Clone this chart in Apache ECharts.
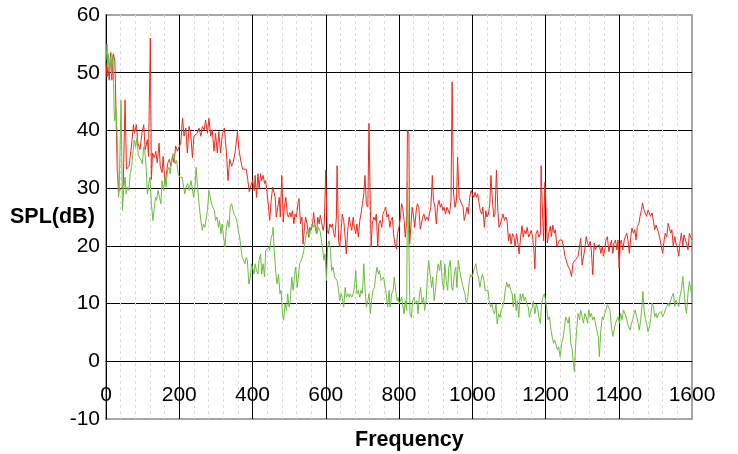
<!DOCTYPE html>
<html><head><meta charset="utf-8">
<script src="https://cdn.jsdelivr.net/npm/echarts@6/dist/echarts.min.js"></script>
<style>html,body{margin:0;padding:0;background:#fff}#c{width:738px;height:454px}</style>
</head><body><div id="c"></div>
<script>
// ---- data ----
const redFreq = [0,3,5,9,13,16,20,24,26,27,31,35,40,47,52,56,63,69,75,78,83,87,93,98,103,107,113,116,121,124,127,132,136,140,145,148,153,156,161,164,169,173,177,182,186,190,195,200,204,209,213,218,222,227,231,236,240,245,249,254,259,263,268,272,277,281,286,290,295,299,304,308,313,317,323,329,333,338,343,347,353,359,363,369,373,378,383,387,391,395,
400,405,407,411,415,418,422,425,429,433,436,440,444,447,451,455,458,462,465,469,473,476,480,484,487,491,495,498,502,505,509,513,516,520,524,527,531,535,538,542,545,549,553,556,560,564,567,571,575,578,582,585,589,593,596,600,604,607,611,615,618,622,625,629,631,635,638,642,645,649,653,656,660,664,667,671,675,678,682,685,689,693,696,700,704,707,711,715,718,722,724,727,731,735,738,742,745,749,753,756,760,764,767,771,775,778,782,785,789,793,796,
800,804,807,810,814,817,821,823,827,829,833,836,840,843,847,850,854,858,861,865,868,872,876,880,883,887,891,894,898,902,905,909,913,916,920,923,927,931,935,938,942,945,947,949,953,957,960,964,967,971,975,978,982,986,989,993,997,1000,1004,1008,1011,1015,1019,1022,1026,1029,1033,1037,1040,1044,1048,1051,1055,1059,1062,1066,1070,1073,1077,1081,1084,1088,1092,1095,1099,1103,1106,1110,1114,1117,1121,1125,1128,1132,1136,1139,1143,1147,1150,1154,1158,1161,1165,1169,1171,1174,1178,1182,1186,1188,1191,1195,1198,1200,
1203,1205,1209,1213,1216,1220,1224,1227,1231,1235,1238,1242,1245,1249,1253,1256,1260,1264,1267,1271,1275,1278,1282,1285,1289,1293,1296,1300,1304,1307,1311,1315,1318,1322,1325,1329,1333,1336,1340,1344,1347,1351,1355,1358,1362,1365,1369,1373,1376,1380,1384,1387,1391,1395,1398,1401,1404,1407,1411,1415,1418,1422,1425,1429,1433,1436,1440,1444,1447,1451,1455,1458,1462,1465,1469,1473,1476,1480,1484,1487,1491,1495,1498,1502,1505,1509,1513,1516,1520,1524,1527,1531,1535,1538,1542,1545,1549,1553,1556,1560,1564,1567,1571,1575,1578,1582,1585,1589,1593,1596,1600];
const redSPL = [51.8,49.3,51.0,48.7,53.5,48.7,53.3,52.1,48.1,43.5,32.7,29.5,29.3,30.4,45.3,33.3,33.8,37.0,41.0,39.5,41.0,37.8,36.7,39.5,41.0,36.7,38.4,35.5,56.0,31.5,36.1,35.3,36.4,34.4,37.8,33.8,32.7,35.5,30.7,32.1,34.4,35.0,33.8,35.5,34.4,37.3,36.4,36.1,37.8,42.1,39.0,40.4,36.1,40.7,39.5,35.3,39.0,38.7,39.5,40.4,39.0,40.7,40.1,41.8,39.5,42.1,39.0,40.1,36.4,39.5,36.1,39.8,36.1,39.0,40.4,36.1,31.3,35.0,33.8,34.4,36.4,39.8,36.7,34.4,33.3,33.0,33.3,31.5,29.4,29.3,
31.3,29.6,32.2,28.4,32.5,29.9,32.5,31.3,32.2,30.8,31.3,29.0,26.7,24.4,27.9,30.2,30.2,28.4,25.0,26.7,28.4,25.0,32.2,24.1,26.7,28.4,25.5,25.0,25.8,25.0,26.1,23.8,25.5,25.0,27.3,28.2,23.8,25.0,20.3,23.2,25.0,23.8,21.5,23.2,22.7,23.8,25.8,23.2,22.1,25.0,23.8,25.3,25.0,22.7,23.8,33.1,22.7,22.1,23.8,23.2,23.8,22.1,21.5,25.0,33.9,20.9,19.8,22.7,25.5,24.4,21.5,18.6,22.7,25.0,23.8,22.7,25.0,23.2,22.1,23.8,21.5,24.4,25.5,27.3,29.0,32.2,27.3,26.7,41.2,26.1,19.8,23.8,25.0,24.4,25.5,19.8,23.8,24.4,23.2,25.5,26.1,26.7,25.0,25.5,23.2,24.4,25.0,22.1,20.3,19.5,22.1,
23.2,25.0,27.3,26.7,24.4,21.5,24.4,40.0,39.4,20.3,20.3,26.7,25.0,23.2,26.1,27.3,26.7,22.9,23.8,25.0,25.5,24.4,25.0,24.4,25.5,26.7,32.2,27.9,26.7,23.8,26.7,27.9,26.7,27.3,26.1,26.7,25.5,26.7,26.7,25.5,27.9,48.4,48.4,29.0,26.7,27.9,35.4,28.4,28.4,27.3,26.7,24.4,25.5,26.7,25.5,28.4,29.6,29.0,28.4,29.3,28.4,29.0,27.3,26.1,25.5,26.7,23.2,26.1,25.0,25.5,27.3,32.2,27.9,25.0,25.5,33.1,26.1,23.2,23.8,23.8,25.5,24.4,25.0,24.4,20.9,22.1,20.3,22.1,21.5,19.8,22.1,20.3,18.6,21.5,23.5,21.5,22.7,22.1,23.2,21.5,22.1,22.7,21.5,18.6,16.0,22.1,22.7,21.5,22.1,33.9,27.3,20.9,31.0,29.0,
23.4,20.5,22.2,23.4,21.6,23.6,22.2,22.8,19.9,20.5,21.0,21.3,21.0,19.9,18.2,17.6,16.7,17.0,15.8,14.7,17.0,17.3,17.6,17.9,18.2,19.9,21.3,16.7,17.0,19.3,21.6,20.5,19.9,20.8,19.3,15.0,20.5,19.3,19.9,19.6,20.2,18.7,19.9,18.2,19.3,21.0,21.6,19.0,19.9,21.0,18.7,20.5,21.0,19.3,21.0,16.1,20.5,21.0,19.3,21.0,21.6,22.2,21.0,18.7,21.6,23.1,22.2,22.8,21.0,23.4,23.9,25.1,26.2,27.4,26.2,26.5,25.1,26.2,26.5,25.1,25.7,24.2,22.8,23.6,23.4,22.2,21.0,21.3,18.7,21.0,22.2,21.6,23.9,24.2,22.2,22.8,19.9,21.6,20.5,19.6,18.2,20.5,22.2,19.9,21.9,21.0,20.5,19.3,22.2,21.6,21.0];

const greenFreq = [0,3,5,7,9,12,15,18,20,23,27,30,34,36,41,45,48,52,55,59,63,66,70,74,77,81,85,88,92,96,99,103,106,110,113,117,120,124,128,131,135,138,142,146,150,153,157,161,164,168,172,175,179,183,186,190,193,197,201,205,208,212,215,219,223,227,232,235,239,243,246,250,255,259,263,266,270,274,277,281,285,288,292,296,299,303,307,310,314,317,321,325,328,332,336,339,343,347,350,354,357,361,365,368,372,376,379,383,386,390,394,397,
400,404,407,411,415,418,422,425,429,433,436,440,444,447,451,455,456,460,464,467,471,475,478,482,485,489,493,496,500,504,507,511,515,518,522,525,529,533,536,540,544,547,551,555,558,562,565,569,573,576,580,584,587,591,595,598,602,605,609,613,616,620,624,627,631,635,638,642,645,649,653,656,660,664,667,671,675,678,682,685,689,693,696,700,704,707,711,715,718,722,725,729,733,736,740,744,747,751,755,758,762,765,769,773,776,780,784,787,791,795,798,
800,804,807,811,814,817,821,823,827,830,834,837,841,845,849,852,856,859,863,867,870,874,878,881,885,889,892,896,900,903,907,911,914,918,922,925,929,933,936,940,944,947,951,955,958,962,966,969,973,977,980,984,988,991,995,999,1002,1006,1010,1014,1017,1021,1024,1028,1032,1035,1039,1043,1046,1050,1054,1057,1061,1065,1068,1072,1076,1079,1083,1087,1090,1094,1098,1101,1105,1109,1112,1116,1120,1123,1127,1131,1134,1138,1142,1145,1149,1153,1156,1160,1164,1167,1171,1175,1178,1182,1186,1189,1193,1197,1200,
1204,1207,1211,1215,1218,1222,1225,1229,1233,1236,1240,1244,1247,1251,1255,1258,1262,1265,1269,1273,1276,1279,1282,1285,1289,1293,1296,1300,1304,1307,1311,1315,1318,1322,1325,1329,1333,1336,1340,1344,1347,1351,1355,1358,1362,1365,1369,1373,1376,1380,1384,1387,1391,1395,1398,1402,1405,1409,1413,1416,1420,1424,1427,1431,1435,1438,1442,1445,1449,1453,1456,1460,1464,1466,1469,1473,1476,1480,1484,1487,1491,1495,1498,1502,1505,1509,1513,1516,1520,1524,1527,1531,1535,1538,1542,1545,1549,1553,1556,1560,1564,1567,1571,1575,1578,1582,1585,1589,1593,1596,1600];
const greenSPL = [52.1,55.0,51.0,53.3,50.4,52.7,49.8,53.0,50.4,41.7,43.8,40.0,28.4,29.6,45.2,26.1,29.6,31.9,29.0,30.2,29.6,32.5,33.6,36.5,38.3,37.1,38.8,35.7,36.0,34.8,34.2,37.1,36.5,33.1,29.0,30.8,31.9,27.3,24.4,26.1,28.4,27.9,29.6,28.4,27.3,31.3,29.6,31.9,30.2,33.1,33.6,32.5,34.8,36.0,35.4,34.2,34.8,32.5,31.9,32.2,31.9,30.2,29.0,30.2,30.8,29.6,31.3,30.2,28.4,30.2,33.6,30.2,26.7,24.4,22.7,23.8,23.2,25.0,26.1,29.6,28.4,27.3,26.7,26.1,24.4,25.0,23.2,24.4,22.1,23.8,21.5,19.8,22.7,24.4,23.2,26.7,27.3,26.1,25.5,25.0,24.4,22.7,21.5,19.8,18.0,17.5,16.9,18.0,17.5,13.4,14.6,16.9,
16.3,15.1,16.9,15.7,15.1,17.5,18.6,15.1,16.9,14.6,19.2,18.9,19.8,19.2,21.5,22.1,23.2,18.6,15.1,13.4,15.1,11.7,12.3,8.2,7.1,10.0,8.8,11.7,9.4,11.1,14.6,12.3,15.1,16.3,12.8,14.6,16.9,17.5,18.0,19.2,20.9,22.1,22.9,21.5,22.7,23.8,23.2,23.8,23.2,22.1,23.2,22.7,21.5,19.8,17.5,18.6,14.0,19.8,20.9,19.2,15.7,16.3,14.6,14.6,14.0,12.3,10.5,11.7,11.1,9.4,12.8,11.1,11.7,11.1,11.7,11.1,11.7,12.8,15.7,11.7,12.3,11.1,12.3,11.7,16.9,12.8,9.4,10.5,11.7,8.2,10.5,12.3,12.8,14.6,16.3,15.1,15.7,14.0,14.0,14.6,12.8,11.7,9.4,12.3,9.4,11.7,12.3,14.6,12.3,10.5,11.1,
9.9,10.5,11.1,9.4,8.2,10.5,8.8,31.1,19.8,8.2,7.6,10.5,11.1,9.9,10.5,8.2,11.7,12.8,9.9,11.1,8.8,10.5,15.1,17.5,15.1,12.8,14.6,10.5,12.8,15.1,16.9,15.7,17.5,14.0,12.3,16.9,14.0,12.3,16.3,17.5,12.8,12.3,15.1,16.3,12.8,17.5,15.7,14.6,14.6,12.3,11.7,9.9,11.1,13.4,15.1,14.6,15.1,16.3,16.9,15.1,14.6,12.8,14.0,15.1,14.0,12.3,12.5,12.3,10.5,9.4,9.9,8.8,8.2,9.9,6.5,8.2,7.6,8.8,9.4,10.5,12.3,13.7,12.8,13.4,12.3,11.7,9.4,11.7,8.8,10.5,7.6,11.7,10.5,11.7,10.5,11.1,9.9,9.4,7.6,8.8,9.4,10.5,8.2,9.9,9.4,7.6,6.5,9.9,11.1,11.7,11.8,
8.9,7.2,7.7,5.4,4.3,3.1,3.7,2.8,2.0,2.5,0.8,3.1,3.7,5.4,7.7,7.7,6.6,7.7,3.1,2.0,-0.3,-1.8,2.5,5.4,8.3,7.2,8.9,7.7,6.6,8.3,7.7,6.6,8.9,7.7,8.3,7.2,7.7,8.0,5.4,4.3,0.8,5.4,7.7,7.2,8.3,8.9,9.8,10.1,8.9,6.0,4.3,4.3,6.6,7.2,7.7,6.6,8.3,7.2,8.9,9.2,7.7,6.6,6.0,5.4,6.6,7.2,8.3,8.9,7.7,6.6,5.4,7.2,10.1,12.1,8.9,7.2,6.6,5.1,6.0,7.2,10.1,9.5,7.7,8.3,7.5,8.3,8.0,8.6,7.7,8.3,8.9,9.5,10.1,9.5,10.6,11.2,11.8,9.5,10.6,10.1,9.5,11.2,12.4,14.7,12.4,9.5,8.3,11.8,13.8,13.5,11.2];

const xMin = 0, xMax = 1600, xStep = 200;
const yMin = -10, yMax = 60, yStep = 10;
const xTitle = 'Frequency';
const yTitle = 'SPL(dB)';
const redColor = '#ee2a1e';
const greenColor = '#6cbd3e';

const pair = (fs, vs) => fs.map((f, i) => [f, vs[i]]);
const FONT = '"Liberation Sans", Arial, sans-serif';

const chart = echarts.init(document.getElementById('c'), null, {renderer: 'canvas'});
chart.setOption({
  animation: false,
  backgroundColor: '#fff',
  grid: {left: 106, right: 46, top: 15, bottom: 35, show: true, borderColor: '#a6a6a6', borderWidth: 2, backgroundColor: 'transparent'},
  xAxis: {
    type: 'value', min: xMin, max: xMax, interval: xStep, position: 'bottom', offset: -58,
    axisLine: {show: true, onZero: false, lineStyle: {color: '#000', width: 1}},
    axisTick: {show: false},
    axisLabel: {color: '#000', fontSize: 21, fontFamily: FONT, margin: 24, formatter: v => String(v)},
    splitLine: {show: true, showMinLine: false, showMaxLine: false, lineStyle: {color: '#000', width: 1}},
    minorTick: {show: false, splitNumber: 5},
    minorSplitLine: {show: true, lineStyle: {color: '#dadada', width: 1, type: [3, 3]}}
  },
  yAxis: {
    type: 'value', min: yMin, max: yMax, interval: yStep,
    axisLine: {show: true, onZero: false, lineStyle: {color: '#000', width: 1}},
    axisTick: {show: false},
    axisLabel: {color: '#000', fontSize: 21, fontFamily: FONT, margin: 6, formatter: v => String(v)},
    splitLine: {show: true, showMinLine: false, showMaxLine: false, lineStyle: {color: '#000', width: 1}}
  },
  graphic: [
    {type: 'text', left: 10, top: 206, style: {text: yTitle, fontSize: 21.5, fontWeight: 'bold', fontFamily: FONT, fill: '#000'}},
    {type: 'text', left: 355, top: 429, style: {text: xTitle, fontSize: 21.5, fontWeight: 'bold', fontFamily: FONT, fill: '#000'}}
  ],
  series: [
    {name: 'Red', type: 'line', data: pair(redFreq, redSPL), showSymbol: false, symbol: 'none',
     lineStyle: {color: redColor, width: 1}, itemStyle: {color: redColor}, z: 3},
    {name: 'Green', type: 'line', data: pair(greenFreq, greenSPL), showSymbol: false, symbol: 'none',
     lineStyle: {color: greenColor, width: 1}, itemStyle: {color: greenColor}, z: 4}
  ]
});
</script></body></html>
